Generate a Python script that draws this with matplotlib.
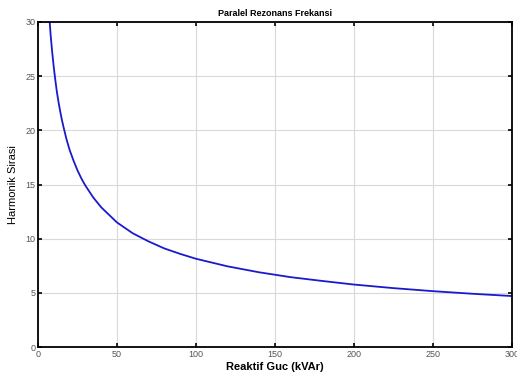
import matplotlib
matplotlib.use('Agg')
import matplotlib.pyplot as plt

plt.rcParams['font.family'] = ['Liberation Sans', 'DejaVu Sans']

# Reactive power (kVAr) and harmonic order
reaktif_guc = [7, 8, 9, 10, 11, 12, 13, 14, 15, 16, 18, 20, 22.5, 25, 27.5,
               30, 35, 40, 45, 50, 55, 60, 70, 80, 90, 100, 120, 140, 160,
               180, 200, 225, 250, 275, 300]
harmonik = [30.8, 28.8, 27.2, 25.8, 24.6, 23.5, 22.6, 21.8, 21.05, 20.4,
            19.2, 18.2, 17.2, 16.3, 15.55, 14.9, 13.8, 12.9, 12.2, 11.5,
            11.0, 10.5, 9.75, 9.1, 8.6, 8.15, 7.45, 6.9, 6.45, 6.1, 5.77,
            5.44, 5.16, 4.92, 4.71]

x_ticks = [0, 50, 100, 150, 200, 250, 300]
y_ticks = [0, 5, 10, 15, 20, 25, 30]

fig = plt.figure(figsize=(5.17, 3.72), dpi=100)
ax = fig.add_axes([0.0735, 0.067, 0.9165, 0.874])

ax.plot(reaktif_guc, harmonik, color='#1a1acc', linewidth=1.3)

ax.set_xlim(0, 300)
ax.set_ylim(0, 30)
ax.set_xticks(x_ticks)
ax.set_yticks(y_ticks)
ax.grid(True, color='#d9d9d9', linewidth=0.8)
ax.set_axisbelow(True)
ax.tick_params(direction='in', top=True, right=True, labelsize=6.5,
               labelcolor='#555555', length=3, width=1.2, pad=2)
for s in ax.spines.values():
    s.set_linewidth(1.3)

ax.set_title('Paralel Rezonans Frekansi', fontsize=6.5, fontweight='bold', pad=4)
ax.set_xlabel('Reaktif Guc (kVAr)', fontsize=8, fontweight='bold', labelpad=2)
ax.set_ylabel('Harmonik Sirasi', fontsize=8, labelpad=5)

fig.savefig('out.png', dpi=100)
